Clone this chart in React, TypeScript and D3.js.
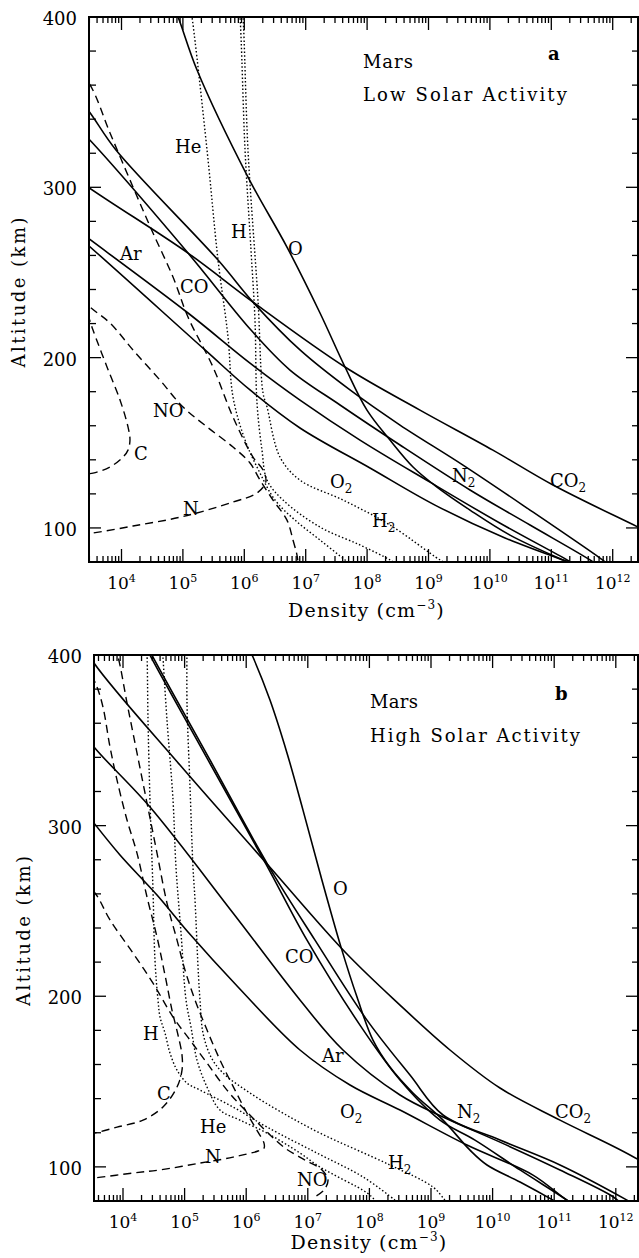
import React from 'react';
import * as d3 from 'd3';

// Each profile point: [altitude (km), log10 density (cm^-3)]
type P = [number, number];

// ---------- Panel a : Mars, low solar activity ----------
const aCO2: P[] = [[330, 2.3], [300.2, 3.454], [261.4, 5.083], [232.6, 6.142], [194.5, 7.64], [169.2, 8.861], [145.7, 10.049], [125.2, 11.028], [100.5, 12.412], [78, 13.7]];
const aO: P[] = [[405, 4.85], [400, 4.92], [368.9, 5.23], [306, 6.06], [264.9, 6.695], [226.2, 7.233], [194.5, 7.64], [169.2, 7.998], [151.6, 8.373], [135.8, 8.748], [124, 9.138], [110.5, 9.676], [95.8, 10.327], [81.2, 11.19], [78, 11.4]];
const aN2: P[] = [[360, 3.1], [345.4, 3.454], [321.9, 3.91], [257.3, 5.572], [232.6, 6.142], [204.5, 6.907], [181.0, 7.721], [160.4, 8.536], [136.9, 9.562], [110.5, 10.653], [82.3, 11.793], [78, 11.95]];
const aCO: P[] = [[345, 3.0], [328.9, 3.454], [261.4, 5.083], [216.2, 6.109], [192.7, 6.744], [172.2, 7.559], [148.7, 8.536], [122.3, 9.676], [101.7, 10.653], [81.2, 11.63], [78, 11.75]];
const aAr: P[] = [[285, 2.9], [270.2, 3.454], [226.2, 5.083], [196.8, 6.093], [175.1, 6.907], [151.6, 7.884], [126.9, 9.024], [102.9, 10.16], [81.2, 11.256], [78, 11.4]];
const aO2: P[] = [[280, 3.0], [266.1, 3.454], [204.5, 5.36], [181.0, 6.093], [158.7, 6.907], [135.2, 8.047], [113.4, 9.106], [94.1, 10.246], [81.2, 11.19], [78, 11.45]];
const aHe: P[] = [[410, 5.1], [400, 5.148], [321.9, 5.393], [257.3, 5.572], [212.1, 5.735], [176.9, 5.816], [151.6, 6.012], [132.2, 6.256], [116.4, 6.5], [104.6, 6.826], [92.9, 7.233], [81.2, 7.64], [78, 7.75]];
const aH: P[] = [[410, 5.9], [400, 5.93], [321.9, 6.012], [263.2, 6.109], [222.1, 6.174], [173.3, 6.207], [145.7, 6.288], [128.1, 6.37], [116.4, 6.63], [100.5, 7.233], [90, 7.884], [81.2, 8.373], [78, 8.5]];
const aH2: P[] = [[410, 5.95], [400, 5.979], [321.9, 6.06], [233.8, 6.223], [179.2, 6.305], [171, 6.37], [141.6, 6.581], [128.1, 6.907], [116.4, 7.607], [101.7, 8.373], [81.2, 9.187], [78, 9.35]];
const aN: P[] = [[372, 3.2], [360.1, 3.487], [331.9, 3.813], [300.2, 4.187], [273.2, 4.513], [247.3, 4.839], [223.8, 5.083], [194.5, 5.49], [165.1, 5.816], [141.6, 6.142], [134, 6.305], [127, 6.35], [120.5, 6.207], [115.2, 5.816], [106.7, 5.002], [101.1, 4.187], [96.6, 3.454], [95.8, 3.2]];
const aNO: P[] = [[240, 3.2], [229.7, 3.487], [220.3, 3.813], [204.5, 4.187], [186.8, 4.627], [171, 5.002], [159.3, 5.393], [147.5, 5.816], [138.1, 6.093], [128.1, 6.256], [116.4, 6.467], [104.6, 6.695], [92.9, 6.793], [84.1, 6.858], [78, 6.88]];
const aC: P[] = [[240, 3.3], [223.2, 3.471], [216.2, 3.536], [194.5, 3.764], [175.1, 3.976], [159.3, 4.106], [151.6, 4.138], [145.7, 4.106], [141.6, 4.024], [135.8, 3.813], [132.2, 3.536], [131.2, 3.3]];

// ---------- Panel b : Mars, high solar activity ----------
const bCO2: P[] = [[410, 3.3], [395.3, 3.529], [335.5, 4.925], [276.9, 6.354], [225.9, 7.604], [194.8, 8.497], [168.5, 9.308], [146.2, 10.12], [127.4, 11.094], [104, 12.377], [78, 13.4]];
const bO: P[] = [[405, 6.03], [398.8, 6.11], [373.6, 6.386], [342.6, 6.662], [309.1, 6.922], [272.2, 7.198], [228.8, 7.539], [199.5, 7.799], [174.3, 8.058], [158.5, 8.334], [143.3, 8.708], [127.4, 9.195], [109.8, 9.633], [101.1, 9.909], [91.1, 10.445], [80.5, 10.981], [78, 11.1]];
const bN2: P[] = [[405, 4.4], [398.8, 4.487], [338.5, 5.412], [276.9, 6.354], [232.9, 7.117], [186, 7.961], [153.8, 8.659], [130.4, 9.195], [115.7, 10.12], [101.1, 11.094], [80.5, 12.182], [78, 12.3]];
const bCO: P[] = [[405, 4.37], [398.8, 4.455], [338.5, 5.38], [276.9, 6.33], [232.9, 6.987], [183.1, 7.847], [150.9, 8.497], [127.4, 9.146], [115.7, 9.714], [98.2, 10.445], [80.5, 11.208], [78, 11.3]];
const bAr: P[] = [[360, 3.25], [346.1, 3.529], [310.9, 4.438], [248.8, 5.786], [197.8, 6.873], [168.5, 7.571], [142.1, 8.497], [129.2, 9.195], [114.5, 10.12], [98.2, 11.094], [82.5, 11.955], [78, 12.1]];
const bO2: P[] = [[310, 3.35], [301.5, 3.529], [282.8, 3.951], [259.3, 4.552], [237.6, 5.055], [205.4, 5.867], [168.5, 6.873], [148, 7.685], [133.3, 8.497], [112.8, 9.584], [95.2, 10.656], [80.5, 11.208], [78, 11.35]];
const bH: P[] = [[405, 4.38], [400, 4.39], [361.9, 4.406], [315, 4.438], [262.2, 4.487], [221.2, 4.519], [197.8, 4.568], [187.8, 4.601], [178.4, 4.682], [166.7, 4.763], [156.7, 4.877], [149.1, 5.039], [145, 5.25], [135.1, 5.786], [123.3, 6.338], [108.1, 7.149], [94.1, 7.896], [80.5, 8.416], [78, 8.5]];
const bHe: P[] = [[405, 4.64], [398.8, 4.649], [361.9, 4.714], [315, 4.812], [275.7, 4.86], [237, 4.942], [197.8, 5.023], [181.9, 5.104], [162.6, 5.201], [146.8, 5.364], [133.3, 5.575], [127.4, 5.899], [119.8, 6.338], [108.1, 6.873], [99.9, 7.198], [84.8, 7.961], [80.5, 8.091], [78, 8.15]];
const bH2: P[] = [[405, 5.039], [371.9, 5.039], [322.6, 5.088], [275.7, 5.136], [256.4, 5.169], [217.1, 5.218], [197.8, 5.25], [178.4, 5.299], [164.4, 5.429], [155, 5.623], [143.3, 6.062], [131.5, 6.597], [119.8, 7.198], [101.1, 8.334], [88.2, 9.032], [80.5, 9.227], [78, 9.3]];
const bC: P[] = [[395, 3.4], [381.2, 3.578], [369.5, 3.675], [346.1, 3.789], [326.7, 3.903], [303.3, 4.065], [283.9, 4.227], [258.1, 4.39], [234.7, 4.552], [212.4, 4.682], [191.9, 4.795], [177.3, 4.893], [165.5, 4.958], [156.7, 4.958], [146.8, 4.877], [135.1, 4.649], [127.4, 4.325], [123.3, 3.903], [119.8, 3.529], [119, 3.3]];
const bN: P[] = [[405, 3.85], [398.8, 3.919], [371.9, 4.065], [342.6, 4.227], [313.2, 4.39], [283.9, 4.552], [254.6, 4.714], [232.9, 4.877], [215.4, 5.006], [197.8, 5.169], [180.2, 5.364], [162.6, 5.575], [145, 5.818], [130.4, 6.029], [120.4, 6.192], [113.9, 6.289], [111, 6.289], [109.3, 6.192], [105.7, 5.786], [102.2, 5.25], [98.2, 4.601], [96.4, 4.162], [93.5, 3.529], [93, 3.3]];
const bNO: P[] = [[272, 3.2], [260.5, 3.545], [244.7, 3.789], [225.3, 4.162], [207.7, 4.487], [187.8, 4.812], [174.3, 5.088], [160.8, 5.364], [145, 5.688], [133.3, 5.981], [121.6, 6.305], [111, 6.63], [104, 6.955], [98.2, 7.231], [92.3, 7.328], [86.4, 7.263], [82.5, 7.117]];

// Axis values
const altTicks = d3.range(80, 401, 20);
const altLabels = [100, 200, 300, 400];
const decadeLabels = [4, 5, 6, 7, 8, 9, 10, 11, 12];

type Kind = 'solid' | 'dashed' | 'dotted';
interface Series { name: string; data: P[]; kind: Kind }
interface Lbl { t: string; sub?: string; n: number; alt: number }

const aSeries: Series[] = [
  { name: 'CO2', data: aCO2, kind: 'solid' }, { name: 'O', data: aO, kind: 'solid' },
  { name: 'N2', data: aN2, kind: 'solid' }, { name: 'CO', data: aCO, kind: 'solid' },
  { name: 'Ar', data: aAr, kind: 'solid' }, { name: 'O2', data: aO2, kind: 'solid' },
  { name: 'He', data: aHe, kind: 'dotted' }, { name: 'H', data: aH, kind: 'dotted' },
  { name: 'H2', data: aH2, kind: 'dotted' }, { name: 'N', data: aN, kind: 'dashed' },
  { name: 'NO', data: aNO, kind: 'dashed' }, { name: 'C', data: aC, kind: 'dashed' },
];
const bSeries: Series[] = [
  { name: 'CO2', data: bCO2, kind: 'solid' }, { name: 'O', data: bO, kind: 'solid' },
  { name: 'N2', data: bN2, kind: 'solid' }, { name: 'CO', data: bCO, kind: 'solid' },
  { name: 'Ar', data: bAr, kind: 'solid' }, { name: 'O2', data: bO2, kind: 'solid' },
  { name: 'He', data: bHe, kind: 'dotted' }, { name: 'H', data: bH, kind: 'dotted' },
  { name: 'H2', data: bH2, kind: 'dotted' }, { name: 'N', data: bN, kind: 'dashed' },
  { name: 'NO', data: bNO, kind: 'dashed' }, { name: 'C', data: bC, kind: 'dashed' },
];

const aLabels: Lbl[] = [
  { t: 'He', n: 4.871, alt: 320.1 }, { t: 'H', n: 5.783, alt: 270.2 }, { t: 'O', n: 6.712, alt: 260.2 },
  { t: 'Ar', n: 3.976, alt: 257.3 }, { t: 'CO', n: 4.953, alt: 237.9 }, { t: 'NO', n: 4.513, alt: 165.1 },
  { t: 'C', n: 4.204, alt: 139.9 }, { t: 'N', n: 5.002, alt: 107.6 }, { t: 'O', sub: '2', n: 7.396, alt: 123.4 },
  { t: 'N', sub: '2', n: 9.383, alt: 126.9 }, { t: 'CO', sub: '2', n: 10.978, alt: 124.0 }, { t: 'H', sub: '2', n: 8.08, alt: 100.5 },
];
const bLabels: Lbl[] = [
  { t: 'O', n: 7.409, alt: 259.3 }, { t: 'CO', n: 6.63, alt: 219.5 }, { t: 'Ar', n: 7.231, alt: 161.4 },
  { t: 'O', sub: '2', n: 7.523, alt: 128.6 }, { t: 'N', sub: '2', n: 9.422, alt: 128.6 }, { t: 'CO', sub: '2', n: 11.013, alt: 128.6 },
  { t: 'H', sub: '2', n: 8.302, alt: 98.7 }, { t: 'NO', n: 6.825, alt: 88.7 }, { t: 'H', n: 4.325, alt: 174.3 },
  { t: 'C', n: 4.552, alt: 139.2 }, { t: 'He', n: 5.25, alt: 119.8 }, { t: 'N', n: 5.331, alt: 102.2 },
];

const FONT = "'DejaVu Serif', 'Liberation Serif', serif";

interface PanelProps {
  id: string;
  left: number; right: number; top: number; bottom: number;
  xExp: [number, number];
  series: Series[];
  labels: Lbl[];
  title: string; titleLen: number; marsLen: number;
  letter: string;
  xTitleOffset: number;
  titleAt: { n: number; alt: number; alt2: number; ln: number; lalt: number };
}

function Panel(p: PanelProps) {
  const x = d3.scaleLog().domain([10 ** p.xExp[0], 10 ** p.xExp[1]]).range([p.left, p.right]);
  const y = d3.scaleLinear().domain([80, 400]).range([p.bottom, p.top]);
  const xe = (e: number) => x(10 ** e);
  const line = d3.line<P>().x(d => xe(d[1])).y(d => y(d[0])).curve(d3.curveCatmullRom.alpha(0.5));

  const xt: { v: number; major: boolean }[] = [];
  for (let e = Math.floor(p.xExp[0]); e <= Math.ceil(p.xExp[1]); e++) {
    for (let m = 1; m <= 9; m++) {
      const lv = Math.log10(m * 10 ** e);
      if (lv >= p.xExp[0] && lv <= p.xExp[1]) xt.push({ v: m * 10 ** e, major: m === 1 });
    }
  }
  const dash = (k: Kind) => (k === 'dashed' ? '8,5' : k === 'dotted' ? '1.5,2.2' : undefined);

  return (
    <g>
      <defs>
        <clipPath id={p.id}>
          <rect x={p.left} y={p.top} width={p.right - p.left} height={p.bottom - p.top} />
        </clipPath>
      </defs>
      <g clipPath={`url(#${p.id})`}>
        {p.series.map(s => (
          <path key={s.name} d={line(s.data) || ''} fill="none" stroke="#000"
            strokeWidth={s.kind === 'solid' ? 1.6 : 1.4} strokeDasharray={dash(s.kind)} />
        ))}
      </g>
      <rect x={p.left} y={p.top} width={p.right - p.left} height={p.bottom - p.top} fill="none" stroke="#000" strokeWidth={2} />
      {xt.map((t, i) => (
        <g key={'xt' + i}>
          <line x1={x(t.v)} x2={x(t.v)} y1={p.bottom} y2={p.bottom - (t.major ? 13 : 6)} stroke="#000" strokeWidth={1.3} />
          <line x1={x(t.v)} x2={x(t.v)} y1={p.top} y2={p.top + (t.major ? 13 : 6)} stroke="#000" strokeWidth={1.3} />
        </g>
      ))}
      {altTicks.map(v => (
        <g key={'yt' + v}>
          <line x1={p.left} x2={p.left + (v % 100 === 0 ? 12 : 7)} y1={y(v)} y2={y(v)} stroke="#000" strokeWidth={1.3} />
          <line x1={p.right} x2={p.right - (v % 100 === 0 ? 12 : 6)} y1={y(v)} y2={y(v)} stroke="#000" strokeWidth={1.3} />
        </g>
      ))}
      {decadeLabels.map(e => (
        <text key={'xl' + e} x={xe(e)} y={p.bottom + 27} textAnchor="middle" fontSize={17} fontFamily={FONT}>
          10<tspan dy={-7} fontSize={11}>{e}</tspan>
        </text>
      ))}
      {altLabels.map(v => (
        <text key={'yl' + v} x={p.left - 12} y={y(v) + 8} textAnchor="end" fontSize={18} fontFamily={FONT}>{v}</text>
      ))}
      <text transform={`translate(${p.left - 64},${(p.top + p.bottom) / 2 + 3}) rotate(-90)`} textAnchor="middle"
        fontSize={18} fontFamily={FONT} textLength={150} lengthAdjust="spacing">Altitude (km)</text>
      <text x={(p.left + p.right) / 2 + 3} y={p.bottom + p.xTitleOffset} textAnchor="middle" fontSize={19} letterSpacing={1.2} fontFamily={FONT}>
        Density (cm<tspan dy={-8} fontSize={12}>−3</tspan><tspan dy={8}>)</tspan>
      </text>
      <text x={xe(p.titleAt.n)} y={y(p.titleAt.alt)} fontSize={18} fontFamily={FONT} textLength={p.marsLen} lengthAdjust="spacing">Mars</text>
      <text x={xe(p.titleAt.n)} y={y(p.titleAt.alt2)} fontSize={18} fontFamily={FONT} textLength={p.titleLen} lengthAdjust="spacing">{p.title}</text>
      <text x={xe(p.titleAt.ln)} y={y(p.titleAt.lalt)} fontSize={18} fontWeight="bold" fontFamily={FONT}>{p.letter}</text>
      {p.labels.map((l, i) => (
        <text key={'lb' + i} x={xe(l.n)} y={y(l.alt)} fontSize={18} fontFamily={FONT}>
          {l.t}{l.sub ? <tspan dy={5} fontSize={12}>{l.sub}</tspan> : null}
        </text>
      ))}
    </g>
  );
}

export default function App() {
  return (
    <svg width={639} height={1258} viewBox="0 0 639 1258"
      style={{ position: 'absolute', left: 0, top: 0, background: '#fff' }}>
      <rect x={0} y={0} width={639} height={1258} fill="#fff" />
      <Panel id="clipA" left={89} right={638} top={17} bottom={562} xExp={[3.4707, 12.412]}
        series={aSeries} labels={aLabels} title="Low Solar Activity" titleLen={204} marsLen={50} letter="a"
        xTitleOffset={55}
        titleAt={{ n: 7.932, alt: 370.1, alt2: 350.7, ln: 10.945, lalt: 374.8 }} />
      <Panel id="clipB" left={94} right={638} top={655} bottom={1201} xExp={[3.5292, 12.3604]}
        series={bSeries} labels={bLabels} title="High Solar Activity" titleLen={210} marsLen={48} letter="b"
        xTitleOffset={48}
        titleAt={{ n: 8.01, alt: 368.9, alt2: 349.0, ln: 11.013, lalt: 373.6 }} />
    </svg>
  );
}
